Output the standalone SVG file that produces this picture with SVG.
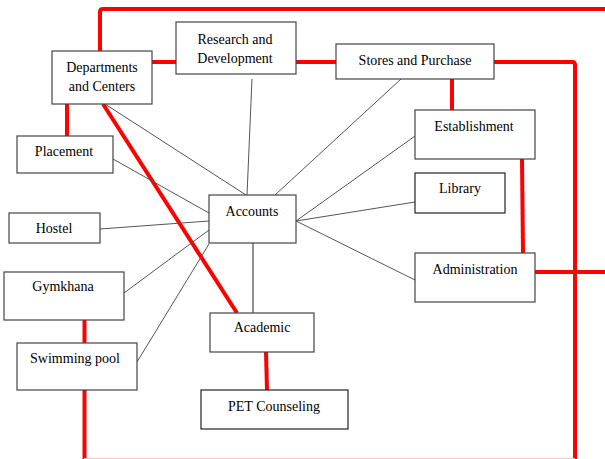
<svg xmlns="http://www.w3.org/2000/svg" width="605" height="459" viewBox="0 0 605 459">
<style>
.box{fill:#fff;stroke:#444;stroke-width:1.2}
.t{font-family:'Liberation Serif',serif;font-size:14px;fill:#000;text-anchor:middle}
.red{fill:none;stroke:#ff0000;stroke-width:4;stroke-linejoin:round}
.thin{fill:none;stroke:#555;stroke-width:1}
</style>
<rect width="605" height="459" fill="#fff"/>
<g id="connectors">
<path class="red" d="M100,51 V12 Q100,9 103,9 H605"/>
<path class="red" d="M152,62 H176"/>
<path class="red" d="M296,62 H336"/>
<path class="red" d="M494,62 H572 Q575,62 575,65 V459"/>
<path class="red" d="M67,104 V136"/>
<path class="red" d="M103,104 L237,313"/>
<path class="red" d="M452,79 V110"/>
<path class="red" d="M522,159 L523,253"/>
<path class="red" d="M535,272 H605"/>
<path class="red" d="M84.5,320 V343"/>
<path class="red" d="M84.5,390 V459"/>
<path class="red" d="M266,352 L267,390"/>
<line x1="84" y1="458.5" x2="575" y2="458.5" stroke="#ffc4c4" stroke-width="1"/>
<line class="thin" x1="105" y1="104" x2="246" y2="195"/>
<line class="thin" x1="252" y1="79" x2="247" y2="195"/>
<line class="thin" x1="401" y1="79" x2="275" y2="195"/>
<line class="thin" x1="113" y1="159" x2="209" y2="213"/>
<line class="thin" x1="100" y1="229" x2="209" y2="221"/>
<line class="thin" x1="124" y1="293" x2="209" y2="230"/>
<line class="thin" x1="137" y1="362" x2="209" y2="244"/>
<line class="thin" x1="296" y1="221" x2="415" y2="136"/>
<line class="thin" x1="296" y1="221" x2="415" y2="202"/>
<line class="thin" x1="296" y1="221" x2="415" y2="280"/>
<line x1="253" y1="243" x2="253" y2="313" stroke="#222" stroke-width="1"/>
</g>
<g font-family="Liberation Serif, serif">
<g id="departments"><rect class="box" x="52" y="51" width="100" height="53"/><text class="t" x="102" y="72">Departments</text><text class="t" x="102" y="91">and Centers</text></g>
<g id="research"><rect class="box" x="176" y="22" width="120" height="52"/><text class="t" x="235" y="44">Research and</text><text class="t" x="235" y="63">Development</text></g>
<g id="stores"><rect class="box" x="336" y="44" width="158" height="35"/><text class="t" x="415" y="65">Stores and Purchase</text></g>
<g id="placement"><rect class="box" x="17" y="136" width="96" height="37"/><text class="t" x="64" y="156">Placement</text></g>
<g id="establishment"><rect class="box" x="415" y="110" width="120" height="49"/><text class="t" x="474" y="131">Establishment</text></g>
<g id="library"><rect class="box" x="415" y="173" width="90" height="40" style="stroke:#222"/><text class="t" x="460" y="193">Library</text></g>
<g id="accounts"><rect class="box" x="209" y="195" width="87" height="48"/><text class="t" x="252" y="216">Accounts</text></g>
<g id="hostel"><rect class="box" x="9" y="213" width="91" height="30"/><text class="t" x="54" y="233">Hostel</text></g>
<g id="administration"><rect class="box" x="415" y="253" width="120" height="49"/><text class="t" x="475" y="274">Administration</text></g>
<g id="gymkhana"><rect class="box" x="4" y="272" width="120" height="48"/><text class="t" x="63" y="291">Gymkhana</text></g>
<g id="academic"><rect class="box" x="210" y="313" width="104" height="39"/><text class="t" x="262" y="332">Academic</text></g>
<g id="swimming"><rect class="box" x="17" y="343" width="120" height="47"/><text class="t" x="75" y="363">Swimming pool</text></g>
<g id="pet"><rect class="box" x="201" y="390" width="147" height="39" style="stroke:#222"/><text class="t" x="274" y="411">PET Counseling</text></g>
</g>
</svg>
